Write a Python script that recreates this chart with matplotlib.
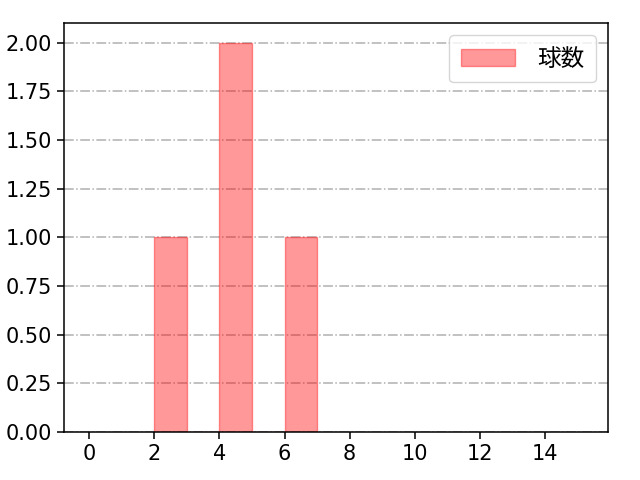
import numpy as np
import matplotlib
matplotlib.use("Agg")
import matplotlib.pyplot as plt

plt.rcParams['font.family'] = ['DejaVu Sans', 'Noto Sans CJK JP']
plt.rcParams['font.size'] = 15
plt.rcParams['axes.linewidth'] = 1.1
plt.rcParams['xtick.major.size'] = 5
plt.rcParams['ytick.major.size'] = 5
plt.rcParams['xtick.major.width'] = 1.1
plt.rcParams['ytick.major.width'] = 1.1

# histogram bins and counts (pitch counts)
bin_edges = [2, 3, 4, 5, 6, 7]
counts = [1, 0, 2, 0, 1]
label = '球数'
xticks = [0, 2, 4, 6, 8, 10, 12, 14]
yticks = [0.00, 0.25, 0.50, 0.75, 1.00, 1.25, 1.50, 1.75, 2.00]

fig, ax = plt.subplots(figsize=(6.4, 4.8), dpi=100)
fig.subplots_adjust(left=0.1, right=0.95, top=0.952, bottom=0.1)

left = np.array(bin_edges[:-1])
width = np.diff(bin_edges)
ax.bar(left, counts, width=width, align='edge', color='red', alpha=0.4,
       edgecolor='red', linewidth=1.0, label=label)

ax.set_xlim(-0.77, 15.93)
ax.set_ylim(0, 2.1)
ax.set_xticks(xticks)
ax.set_yticks(yticks)
ax.set_yticklabels(['%.2f' % v for v in yticks])
ax.grid(axis='y', linestyle='-.', color='#b0b0b0', linewidth=1.1)
ax.set_axisbelow(True)

ax.legend(loc='upper right', fontsize=17, handlelength=2.3, handletextpad=0.93,
          borderpad=0.5, borderaxespad=0.5, fancybox=True)

plt.savefig('out.png')
